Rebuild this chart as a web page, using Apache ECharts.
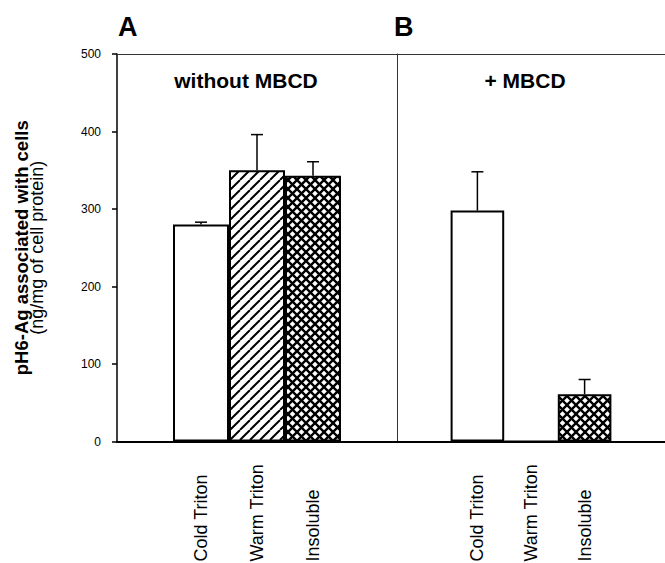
<!DOCTYPE html>
<html><head><meta charset="utf-8">
<script src="https://cdn.jsdelivr.net/npm/echarts@6/dist/echarts.min.js"></script>
<style>html,body{margin:0;padding:0;background:#fff}#c{width:665px;height:563px}</style>
</head><body><div id="c"></div>
<script>
const categories = ['Cold Triton', 'Warm Triton', 'Insoluble'];
const valuesA = [280, 350, 343];
const errorsA = [3, 46, 18];
const valuesB = [298, 0, 61];
const errorsB = [50, null, 19];
const yMin = 0, yMax = 500, yStep = 100;
const panelLetters = ['A', 'B'];
const panelTitles = ['without MBCD', '+ MBCD'];

const FONT = '"Liberation Sans", Arial, Helvetica, sans-serif';

function makePattern(kind) {
  const s = kind === 'hatch' ? 10 : 9;
  const c = document.createElement('canvas');
  c.width = s; c.height = s;
  const ctx = c.getContext('2d');
  ctx.fillStyle = '#fff'; ctx.fillRect(0, 0, s, s);
  ctx.strokeStyle = '#000'; ctx.lineWidth = kind === 'hatch' ? 2 : 2.4;
  function diag(dir) {
    ctx.beginPath();
    for (let k = -1; k <= 1; k++) {
      if (dir === 1) { ctx.moveTo(k * s, s); ctx.lineTo(k * s + s, 0); }
      else { ctx.moveTo(k * s, 0); ctx.lineTo(k * s + s, s); }
    }
    ctx.stroke();
  }
  diag(1);
  if (kind === 'cross') diag(-1);
  return { image: c, repeat: 'repeat', imageWidth: s, imageHeight: s };
}
const fills = ['#ffffff', makePattern('hatch'), makePattern('cross')];

const padCats = [''].concat(categories, ['']);
function barData(vals) {
  return [null].concat(vals.map((v, i) => ({ value: v, itemStyle: { color: fills[i] } })), [null]);
}
function errData(vals, errs) {
  const out = [];
  vals.forEach((v, i) => { if (errs[i] != null) out.push([i + 1, v, v + errs[i]]); });
  return out;
}
function renderErr(params, api) {
  const x = api.value(0), v = api.value(1), t = api.value(2);
  const p0 = api.coord([x, v]), p1 = api.coord([x, t]);
  const half = 6;
  return { type: 'group', children: [
    { type: 'line', shape: { x1: p0[0], y1: p0[1], x2: p1[0], y2: p1[1] }, style: { stroke: '#000', lineWidth: 1.5 } },
    { type: 'line', shape: { x1: p1[0] - half, y1: p1[1], x2: p1[0] + half, y2: p1[1] }, style: { stroke: '#000', lineWidth: 1.5 } }
  ]};
}

const chart = echarts.init(document.getElementById('c'), null, { renderer: 'svg' });

function bottomX(gi) {
  return {
    type: 'category', gridIndex: gi, data: padCats, position: 'bottom', boundaryGap: true,
    axisLine: { show: true, onZero: false, lineStyle: { color: '#000', width: 2 } },
    axisTick: { show: false },
    axisLabel: { interval: 0, rotate: 90, align: 'left', verticalAlign: 'middle', margin: 120,
      fontSize: 18, color: '#000', fontFamily: FONT },
    splitLine: { show: false }
  };
}
function topX(gi) {
  return {
    type: 'category', gridIndex: gi, data: padCats, position: 'top',
    axisLine: { show: true, onZero: false, lineStyle: { color: '#333', width: 1 } },
    axisTick: { show: false }, axisLabel: { show: false }, splitLine: { show: false }
  };
}

chart.setOption({
  animation: false,
  backgroundColor: '#fff',
  textStyle: { fontFamily: FONT },
  grid: [
    { left: 117, top: 54, width: 280, height: 387.5, containLabel: false, outerBoundsMode: 'none' },
    { left: 397, top: 54, width: 268, height: 387.5, containLabel: false, outerBoundsMode: 'none' }
  ],
  xAxis: [bottomX(0), topX(0), bottomX(1), topX(1)],
  yAxis: [
    { type: 'value', gridIndex: 0, min: yMin, max: yMax, interval: yStep,
      axisLine: { show: true, lineStyle: { color: '#000', width: 1.5 } },
      axisTick: { show: true, inside: false, length: 5, lineStyle: { color: '#000', width: 1.5 } },
      axisLabel: { fontSize: 12, color: '#000', margin: 16, fontFamily: FONT },
      splitLine: { show: false },
      name: '{b|pH6-Ag associated with cells}\n{n|(ng/mg of cell protein)}',
      nameLocation: 'middle', nameRotate: 90, nameGap: 72,
      nameTextStyle: { fontFamily: FONT, rich: {
        b: { fontSize: 18.5, fontWeight: 'bold', color: '#000', lineHeight: 16, fontFamily: FONT },
        n: { fontSize: 18, color: '#000', lineHeight: 16, fontFamily: FONT } } }
    },
    { type: 'value', gridIndex: 1, min: yMin, max: yMax, interval: yStep,
      axisLine: { show: true, lineStyle: { color: '#333', width: 1 } },
      axisTick: { show: false }, axisLabel: { show: false }, splitLine: { show: false }
    }
  ],
  series: [
    { type: 'bar', xAxisIndex: 0, yAxisIndex: 0, barCategoryGap: '0%', data: barData(valuesA),
      itemStyle: { borderColor: '#000', borderWidth: 2 } },
    { type: 'bar', xAxisIndex: 2, yAxisIndex: 1, barCategoryGap: '0%', data: barData(valuesB),
      itemStyle: { borderColor: '#000', borderWidth: 2 } },
    { type: 'custom', xAxisIndex: 0, yAxisIndex: 0, renderItem: renderErr, data: errData(valuesA, errorsA),
      encode: { x: 0, y: [1, 2] }, z: 5 },
    { type: 'custom', xAxisIndex: 2, yAxisIndex: 1, renderItem: renderErr, data: errData(valuesB, errorsB),
      encode: { x: 0, y: [1, 2] }, z: 5 }
  ],
  graphic: [
    { type: 'text', x: 118, y: 27, style: { text: panelLetters[0], font: 'bold 27px ' + FONT, fill: '#000', verticalAlign: 'middle' } },
    { type: 'text', x: 394, y: 27, style: { text: panelLetters[1], font: 'bold 27px ' + FONT, fill: '#000', verticalAlign: 'middle' } },
    { type: 'text', x: 246, y: 80, style: { text: panelTitles[0], font: 'bold 21px ' + FONT, fill: '#000', align: 'center', verticalAlign: 'middle' } },
    { type: 'text', x: 525, y: 80, style: { text: panelTitles[1], font: 'bold 21px ' + FONT, fill: '#000', align: 'center', verticalAlign: 'middle' } }
  ]
});
</script>
</body></html>
